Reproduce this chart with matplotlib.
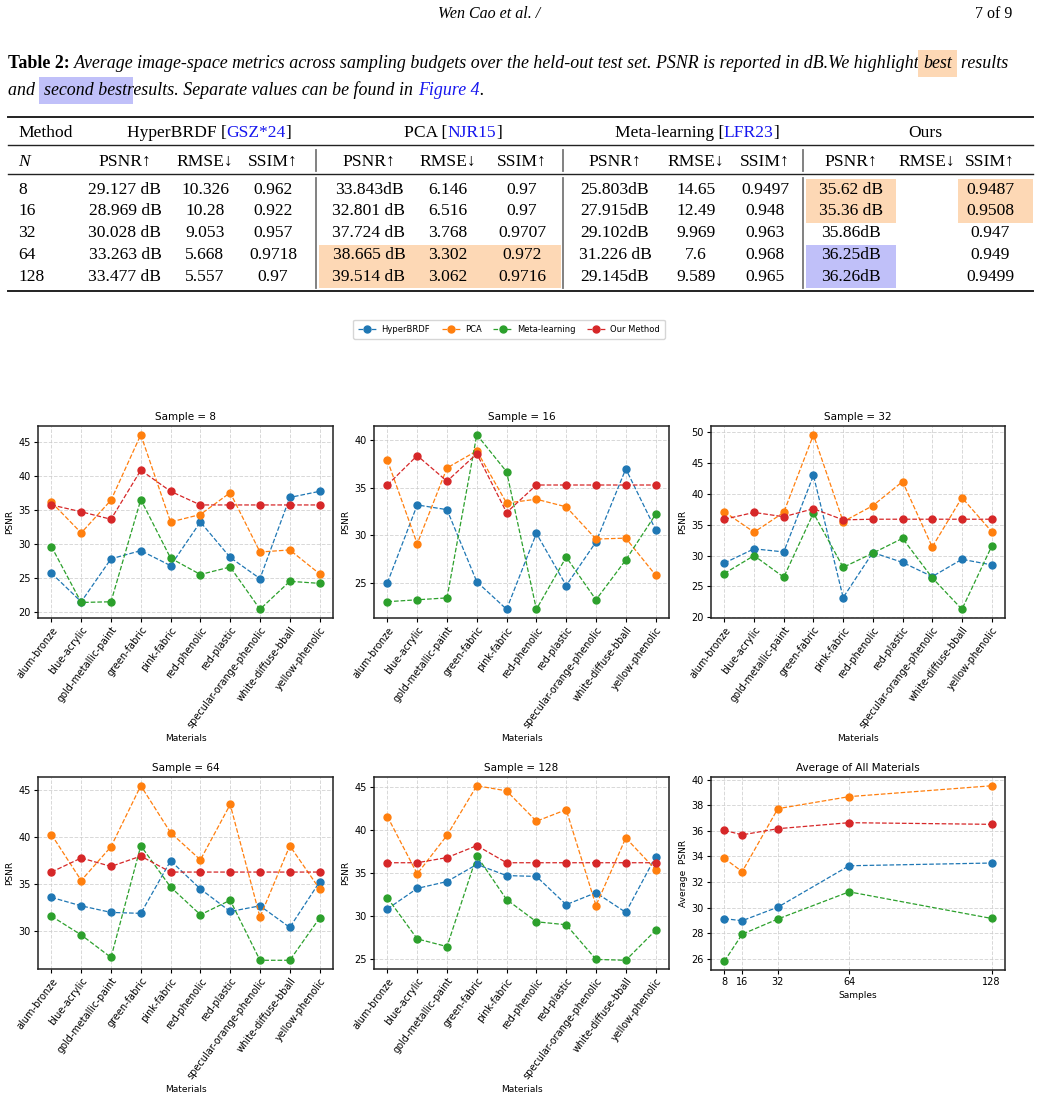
import matplotlib
matplotlib.use("Agg")
import matplotlib.pyplot as plt
from matplotlib.ticker import MultipleLocator

# ---------------- data ----------------
materials = ['alum-bronze', 'blue-acrylic', 'gold-metallic-paint', 'green-fabric', 'pink-fabric',
             'red-phenolic', 'red-plastic', 'specular-orange-phenolic', 'white-diffuse-bball',
             'yellow-phenolic']
series_names = ['HyperBRDF', 'PCA', 'Meta-learning', 'Our Method']
series_colors = ['#1f77b4', '#ff7f0e', '#2ca02c', '#d62728']

s8_hyper = [25.7, 21.5, 27.8, 29.0, 26.8, 33.2, 28.0, 24.9, 36.8, 37.7]
s8_pca = [36.1, 31.6, 36.4, 46.0, 33.2, 34.3, 37.5, 28.8, 29.1, 25.6]
s8_meta = [29.6, 21.4, 21.5, 36.5, 27.9, 25.5, 26.6, 20.4, 24.5, 24.2]
s8_ours = [35.7, 34.7, 33.6, 40.8, 37.7, 35.7, 35.7, 35.7, 35.7, 35.7]

s16_hyper = [25.0, 33.2, 32.7, 25.1, 22.2, 30.2, 24.7, 29.3, 37.0, 30.6]
s16_pca = [37.9, 29.1, 37.1, 38.9, 33.4, 33.8, 33.0, 29.6, 29.7, 25.8]
s16_meta = [23.0, 23.2, 23.4, 40.6, 36.7, 22.2, 27.7, 23.2, 27.4, 32.2]
s16_ours = [35.3, 38.4, 35.7, 38.6, 32.4, 35.3, 35.3, 35.3, 35.3, 35.3]

s32_hyper = [28.8, 31.1, 30.6, 43.0, 23.2, 30.5, 28.9, 26.6, 29.4, 28.5]
s32_pca = [37.1, 33.8, 37.0, 49.6, 35.5, 38.1, 42.0, 31.4, 39.4, 33.9]
s32_meta = [27.1, 30.0, 26.5, 36.9, 28.1, 30.4, 32.8, 26.4, 21.3, 31.5]
s32_ours = [35.9, 37.0, 36.3, 37.6, 35.8, 35.9, 35.9, 35.9, 35.9, 35.9]

s64_hyper = [33.6, 32.7, 32.0, 31.9, 37.5, 34.5, 32.1, 32.7, 30.4, 35.25]
s64_pca = [40.3, 35.4, 39.0, 45.5, 40.5, 37.6, 43.5, 31.5, 39.1, 34.5]
s64_meta = [31.6, 29.6, 27.2, 39.1, 34.7, 31.75, 33.3, 26.9, 26.9, 31.4]
s64_ours = [36.3, 37.8, 36.9, 38.0, 36.3, 36.3, 36.3, 36.3, 36.3, 36.3]

s128_hyper = [30.8, 33.2, 34.0, 36.0, 34.7, 34.6, 31.3, 32.7, 30.4, 36.9]
s128_pca = [41.6, 34.9, 39.4, 45.2, 44.6, 41.05, 42.4, 31.2, 39.1, 35.4]
s128_meta = [32.1, 27.3, 26.4, 37.0, 31.9, 29.3, 28.95, 24.9, 24.8, 28.3]
s128_ours = [36.2, 36.2, 36.8, 38.2, 36.2, 36.2, 36.2, 36.2, 36.2, 36.2]

samples = [8, 16, 32, 64, 128]
avg_hyper = [29.127, 28.969, 30.028, 33.263, 33.477]
avg_pca = [33.843, 32.801, 37.724, 38.665, 39.514]
avg_meta = [25.803, 27.915, 29.102, 31.226, 29.145]
avg_ours = [36.03, 35.68, 36.16, 36.63, 36.50]

# table
table_N = ['8', '16', '32', '64', '128']
hyper_psnr = ['29.127 dB', '28.969 dB', '30.028 dB', '33.263 dB', '33.477 dB']
hyper_rmse = ['10.326', '10.28', '9.053', '5.668', '5.557']
hyper_ssim = ['0.962', '0.922', '0.957', '0.9718', '0.97']
pca_psnr = ['33.843dB', '32.801 dB', '37.724 dB', '38.665 dB', '39.514 dB']
pca_rmse = ['6.146', '6.516', '3.768', '3.302', '3.062']
pca_ssim = ['0.97', '0.97', '0.9707', '0.972', '0.9716']
meta_psnr = ['25.803dB', '27.915dB', '29.102dB', '31.226 dB', '29.145dB']
meta_rmse = ['14.65', '12.49', '9.969', '7.6', '9.589']
meta_ssim = ['0.9497', '0.948', '0.963', '0.968', '0.965']
ours_psnr = ['35.62 dB', '35.36 dB', '35.86dB', '36.25dB', '36.26dB']
ours_rmse = ['', '', '', '', '']
ours_ssim = ['0.9487', '0.9508', '0.947', '0.949', '0.9499']

# ---------------- figure ----------------
W, H = 1040, 1103
fig = plt.figure(figsize=(W / 100, H / 100), dpi=100)
page = fig.add_axes([0, 0, 1, 1])
page.set_xlim(0, W)
page.set_ylim(H, 0)
page.axis('off')
page.set_zorder(-1)

SERIF = ['Liberation Serif', 'DejaVu Serif']
PEACH = '#fdd8b5'
LAV = '#c0c0f9'
LINK = '#1515ee'
renderer = fig.canvas.get_renderer()


def text_width(t):
    return t.get_window_extent(renderer=renderer).width


def seq(x, y, pieces, size, center=False):
    objs = []
    for s, kw in pieces:
        t = page.text(0, y, s, fontsize=size, family=SERIF, va='baseline', ha='left', **kw)
        objs.append(t)
    widths = [text_width(t) for t in objs]
    if center:
        x = x - sum(widths) / 2
    for t, w in zip(objs, widths):
        t.set_x(x)
        x += w
    return x


# header
page.text(489, 18, 'Wen Cao et al. /', fontsize=11.5, family=SERIF, style='italic', ha='center', va='baseline')
page.text(1012, 18, '7 of 9', fontsize=11.5, family=SERIF, ha='right', va='baseline')

# caption
it = dict(style='italic')
cap_size = 12.9
seq(8, 68, [('Table 2:', dict(weight='bold')),
            (' Average image-space metrics across sampling budgets over the held-out test set. PSNR is reported in dB.We highlight ', it),
            ('best', dict(style='italic', bbox=dict(boxstyle='square,pad=0.3', fc=PEACH, ec='none'))),
            ('  results', it)], cap_size)
seq(8, 95, [('and  ', it),
            ('second best', dict(style='italic', bbox=dict(boxstyle='square,pad=0.3', fc=LAV, ec='none'))),
            ('results. Separate values can be found in ', it),
            ('Figure 4', dict(style='italic', color=LINK)),
            ('.', it)], cap_size)

# table highlights
for (x0, x1, y0, y1, c) in [(319, 561, 245, 288, PEACH), (806, 896, 179, 223, PEACH),
                            (958, 1033, 179, 223, PEACH), (806, 896, 245, 288, LAV)]:
    page.fill_between([x0, x1], [y0, y0], [y1, y1], color=c, lw=0)

# table rules
page.plot([8, 1033], [116.5, 116.5], color='#222222', lw=1.4)
page.plot([8, 1033], [145, 145], color='#222222', lw=1.0)
page.plot([8, 1033], [174, 174], color='#222222', lw=1.0)
page.plot([8, 1033], [291, 291], color='#222222', lw=1.4)
for xv in [316, 563, 803]:
    page.plot([xv, xv], [150, 171], color='#777777', lw=1.3)
    page.plot([xv, xv], [178, 288], color='#777777', lw=1.3)

TS = 12.6
page.text(18, 137, 'Method', fontsize=TS, family=SERIF, va='baseline')
page.text(18, 166, 'N', fontsize=TS, family=SERIF, style='italic', va='baseline')
group_centers = [209, 453, 697, 925]
group_titles = [('HyperBRDF', 'GSZ*24'), ('PCA', 'NJR15'), ('Meta-learning', 'LFR23'), ('Ours', None)]
for cx, (name, cite) in zip(group_centers, group_titles):
    if cite:
        seq(cx, 137, [(name + ' [', {}), (cite, dict(color=LINK)), (']', {})], TS, center=True)
    else:
        seq(cx, 137, [(name, {})], TS, center=True)

col_centers = [125, 205, 273, 369, 448, 522, 615, 696, 765, 851, 927, 990]
col_heads = ['PSNR↑', 'RMSE↓', 'SSIM↑'] * 4
columns = [hyper_psnr, hyper_rmse, hyper_ssim, pca_psnr, pca_rmse, pca_ssim,
           meta_psnr, meta_rmse, meta_ssim, ours_psnr, ours_rmse, ours_ssim]
row_base = [194, 215, 237, 259, 281]
for cx, hd, col in zip(col_centers, col_heads, columns):
    page.text(cx, 166, hd, fontsize=TS, family=SERIF, ha='center', va='baseline')
    for yb, v in zip(row_base, col):
        page.text(cx, yb, v, fontsize=TS, family=SERIF, ha='center', va='baseline')
for yb, n in zip(row_base, table_N):
    page.text(18, yb, n, fontsize=TS, family=SERIF, va='baseline')

# ---------------- plots ----------------
def pos(l, r, t, b):
    return [l / W, 1 - b / H, (r - l) / W, (b - t) / H]


panels = [
    ('Sample = 8', pos(38, 333, 426, 618), [s8_hyper, s8_pca, s8_meta, s8_ours]),
    ('Sample = 16', pos(374, 669, 426, 618), [s16_hyper, s16_pca, s16_meta, s16_ours]),
    ('Sample = 32', pos(711, 1005, 426, 618), [s32_hyper, s32_pca, s32_meta, s32_ours]),
    ('Sample = 64', pos(38, 333, 777, 969), [s64_hyper, s64_pca, s64_meta, s64_ours]),
    ('Sample = 128', pos(374, 669, 777, 969), [s128_hyper, s128_pca, s128_meta, s128_ours]),
]

FS = 7
LW = 0.9
MS = 5


def style_ax(ax):
    ax.grid(True, linestyle='--', color='#cccccc', lw=0.7, alpha=0.75)
    ax.set_axisbelow(True)
    for sp in ax.spines.values():
        sp.set_linewidth(1.1)
        sp.set_color('#222222')
    ax.tick_params(labelsize=FS, length=3, width=0.8, pad=2)


handles = []
for title, p, series in panels:
    ax = fig.add_axes(p)
    xs = list(range(len(materials)))
    hs = []
    for vals, c, nm in zip(series, series_colors, series_names):
        h, = ax.plot(xs, vals, linestyle='--', marker='o', color=c, lw=LW, ms=MS, label=nm)
        hs.append(h)
    handles = hs
    ax.set_xticks(xs)
    ax.set_xticklabels(materials, rotation=53, ha='right', rotation_mode='anchor')
    ax.yaxis.set_major_locator(MultipleLocator(5))
    ax.set_title(title, fontsize=7.5, pad=4)
    ax.set_xlabel('Materials', fontsize=6.5, labelpad=3)
    ax.set_ylabel('PSNR', fontsize=6.5, labelpad=3)
    style_ax(ax)

ax = fig.add_axes(pos(711, 1005, 777, 970))
for vals, c, nm in zip([avg_hyper, avg_pca, avg_meta, avg_ours], series_colors, series_names):
    ax.plot(samples, vals, linestyle='--', marker='o', color=c, lw=LW, ms=MS, label=nm)
ax.set_xticks(samples)
ax.set_xticklabels([str(s) for s in samples])
ax.set_title('Average of All Materials', fontsize=7.5, pad=4)
ax.set_xlabel('Samples', fontsize=6.5, labelpad=3)
ax.set_ylabel('Average  PSNR', fontsize=6.5, labelpad=3)
style_ax(ax)

fig.legend(handles=handles, labels=series_names, loc='center', ncol=4,
           bbox_to_anchor=(509 / W, 1 - 329 / H), fontsize=6.0, frameon=True,
           handlelength=2.2, columnspacing=1.4, borderpad=0.6, handletextpad=0.6,
           fancybox=True, edgecolor='#cccccc')

fig.savefig('out.png', dpi=100)
